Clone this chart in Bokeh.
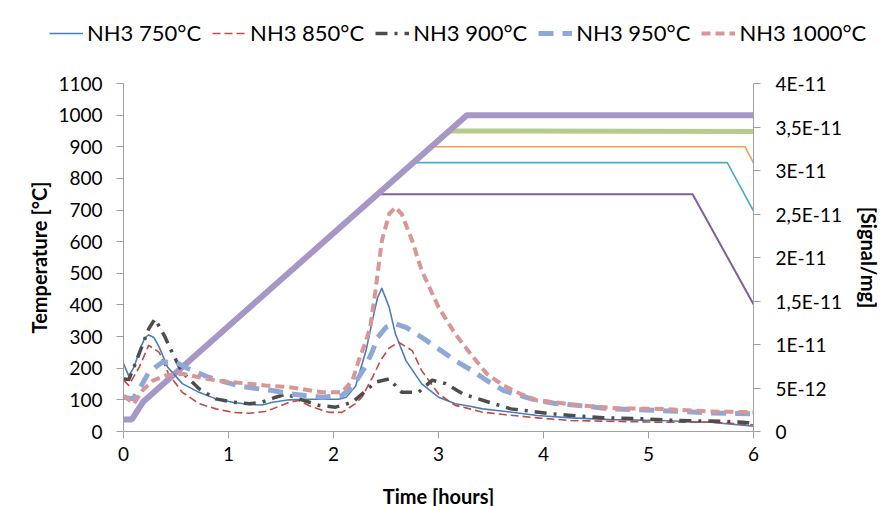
from bokeh.plotting import figure
from bokeh.models import Range1d, LinearAxis, FixedTicker, CustomJSTickFormatter, Legend, LegendItem
from bokeh.embed import file_html
from bokeh.resources import INLINE

# ---------------- data ----------------
# Temperature programmes (left axis, °C) – breakpoints
t_T1000 = [0, 0.08, 0.19, 3.27, 6.0]
T_1000 = [38, 38, 95, 1000, 1000]
t_T950 = [0, 0.08, 0.19, 3.10, 6.0]
T_950 = [38, 38, 95, 950, 948]
t_T900 = [0, 0.08, 0.19, 2.93, 5.92, 6.0]
T_900 = [38, 38, 95, 900, 900, 848]
t_T850 = [0, 0.08, 0.19, 2.76, 5.75, 6.0]
T_850 = [38, 38, 95, 850, 850, 697]
t_T750 = [0, 0.08, 0.19, 2.44, 5.42, 6.0]
T_750 = [38, 38, 95, 750, 750, 402]

# NH3 signals (right axis, signal/mg)
t_750 = [0, 0.05, 0.10, 0.165, 0.205, 0.24, 0.29, 0.34, 0.42, 0.56, 0.72, 0.88, 1.04, 1.20, 1.32,
         1.42, 1.58, 1.73, 1.89, 2.05, 2.12, 2.21, 2.31, 2.37, 2.42, 2.46, 2.53, 2.59, 2.69, 2.84,
         3.00, 3.16, 3.30, 3.42, 3.62, 3.94, 4.26, 4.64, 5.11, 5.59, 6.00]
s_750 = [7.8e-12, 6.4e-12, 7.4e-12, 9.7e-12, 1.08e-11, 1.11e-11, 1.08e-11, 9.7e-12, 7.4e-12, 5.5e-12,
         4.5e-12, 3.75e-12, 3.37e-12, 3.1e-12, 3.05e-12, 3.37e-12, 3.64e-12, 3.71e-12, 3.71e-12,
         3.71e-12, 3.94e-12, 5.2e-12, 9.3e-12, 1.275e-11, 1.54e-11, 1.646e-11, 1.43e-11, 1.12e-11,
         8.15e-12, 5.48e-12, 3.94e-12, 3.18e-12, 2.9e-12, 2.6e-12, 2.33e-12, 1.84e-12, 1.57e-12,
         1.36e-12, 1.26e-12, 1.07e-12, 6.0e-13]

t_850 = [0, 0.05, 0.15, 0.24, 0.34, 0.43, 0.56, 0.72, 0.88, 1.04, 1.20, 1.35, 1.42, 1.58, 1.67,
         1.80, 1.96, 2.08, 2.21, 2.27, 2.37, 2.45, 2.53, 2.62, 2.75, 2.84, 3.00, 3.16, 3.30, 3.42,
         3.62, 3.94, 4.26, 4.73, 5.11, 5.59, 6.00]
s_850 = [5.9e-12, 5.3e-12, 7.4e-12, 9.9e-12, 9.1e-12, 6.6e-12, 4.5e-12, 3.2e-12, 2.6e-12, 2.2e-12,
         2.1e-12, 2.3e-12, 2.6e-12, 3.37e-12, 3.56e-12, 2.8e-12, 2.2e-12, 2.2e-12, 3.2e-12, 3.94e-12,
         6.2e-12, 8.2e-12, 9.6e-12, 1.026e-11, 9.3e-12, 7.0e-12, 4.33e-12, 3.0e-12, 2.6e-12, 2.22e-12,
         1.95e-12, 1.57e-12, 1.26e-12, 1.15e-12, 1.07e-12, 1.07e-12, 7.7e-13]

t_900 = [0, 0.05, 0.10, 0.16, 0.24, 0.30, 0.39, 0.47, 0.56, 0.72, 0.88, 1.04, 1.20, 1.32, 1.45,
         1.55, 1.70, 1.86, 2.02, 2.18, 2.30, 2.40, 2.53, 2.65, 2.81, 2.94, 3.07, 3.23, 3.38, 3.53,
         3.69, 3.88, 4.03, 4.26, 4.57, 4.95, 5.27, 5.68, 5.90, 6.00]
s_900 = [6.05e-12, 5.97e-12, 7.4e-12, 9.3e-12, 1.18e-11, 1.294e-11, 1.1e-11, 8.9e-12, 6.8e-12,
         4.9e-12, 3.75e-12, 3.37e-12, 3.18e-12, 3.37e-12, 3.94e-12, 4.3e-12, 3.64e-12, 3.0e-12,
         2.8e-12, 3.37e-12, 4.6e-12, 5.67e-12, 6.05e-12, 4.51e-12, 4.51e-12, 5.9e-12, 5.5e-12,
         4.33e-12, 3.75e-12, 3.18e-12, 2.6e-12, 2.33e-12, 2.1e-12, 1.84e-12, 1.57e-12, 1.46e-12,
         1.26e-12, 1.18e-12, 1.07e-12, 9.0e-13]

t_950 = [0, 0.09, 0.18, 0.24, 0.37, 0.50, 0.62, 0.81, 0.97, 1.13, 1.29, 1.42, 1.58, 1.73, 1.89,
         2.08, 2.18, 2.30, 2.37, 2.42, 2.50, 2.59, 2.69, 2.84, 3.00, 3.16, 3.32, 3.46, 3.62, 3.78,
         3.94, 4.10, 4.26, 4.41, 4.64, 5.11, 5.59, 6.00]
s_950 = [3.94e-12, 3.75e-12, 5.48e-12, 6.8e-12, 7.96e-12, 7.96e-12, 7.2e-12, 6.24e-12, 5.67e-12,
         5.17e-12, 4.9e-12, 4.71e-12, 4.33e-12, 4.13e-12, 3.94e-12, 4.13e-12, 5.09e-12, 7.4e-12,
         9.2e-12, 1.08e-11, 1.198e-11, 1.237e-11, 1.198e-11, 1.083e-11, 9.5e-12, 8.15e-12, 7.0e-12,
         5.86e-12, 4.71e-12, 4.13e-12, 3.56e-12, 3.25e-12, 3.07e-12, 2.9e-12, 2.6e-12, 2.41e-12,
         2.14e-12, 2.03e-12]

t_1000 = [0, 0.10, 0.18, 0.28, 0.40, 0.56, 0.72, 0.88, 1.04, 1.20, 1.35, 1.58, 1.89, 2.08, 2.18,
          2.24, 2.31, 2.35, 2.40, 2.46, 2.53, 2.59, 2.65, 2.75, 2.84, 3.00, 3.16, 3.32, 3.46, 3.62,
          3.78, 3.94, 4.10, 4.26, 4.57, 4.73, 5.11, 5.59, 6.00]
s_1000 = [4.13e-12, 3.18e-12, 4.71e-12, 5.86e-12, 6.43e-12, 6.63e-12, 6.24e-12, 5.86e-12, 5.67e-12,
          5.48e-12, 5.3e-12, 5.09e-12, 4.51e-12, 4.51e-12, 5.86e-12, 8.15e-12, 1.045e-11, 1.2e-11,
          1.62e-11, 2.19e-11, 2.5e-11, 2.576e-11, 2.5e-11, 2.19e-11, 1.85e-11, 1.43e-11, 1.12e-11,
          8.7e-12, 6.63e-12, 5.28e-12, 4.33e-12, 3.56e-12, 3.37e-12, 3.1e-12, 2.79e-12, 2.65e-12,
          2.6e-12, 2.3e-12, 2.22e-12]

labels = ["NH3 750°C", "NH3 850°C", "NH3 900°C", "NH3 950°C", "NH3 1000°C"]
x_ticks = [0, 1, 2, 3, 4, 5, 6]
y_ticks = [0, 100, 200, 300, 400, 500, 600, 700, 800, 900, 1000, 1100]
y2_ticks = [0, 5e-12, 1e-11, 1.5e-11, 2e-11, 2.5e-11, 3e-11, 3.5e-11, 4e-11]

# ---------------- layout geometry (pixels) ----------------
W, H = 884, 506
X0_PX, X1_PX = 123, 753      # pixel columns of t = 0 and t = 6
Y0_PX, Y1_PX = 431, 83       # pixel rows of 0 and 1100 °C
XMIN, XMAX = 0, 6
YMIN, YMAX = 0, 1100
SMAX = 4e-11

sx = (X1_PX - X0_PX) / (XMAX - XMIN)
sy = (Y0_PX - Y1_PX) / (YMAX - YMIN)
x_lo = XMIN - X0_PX / sx
x_hi = XMAX + (W - X1_PX) / sx
y_lo = YMIN - (H - Y0_PX) / sy
y_hi = YMAX + Y1_PX / sy
k = SMAX / YMAX

FONT = "Lato"
AX = "#A0A0A0"

p = figure(width=W, height=H, output_backend="svg", toolbar_location=None,
           x_range=Range1d(x_lo, x_hi), y_range=Range1d(y_lo, y_hi),
           x_axis_type=None, y_axis_type=None,
           min_border_left=0, min_border_right=0, min_border_top=0, min_border_bottom=0)
p.extra_y_ranges = {"sig": Range1d(y_lo * k, y_hi * k)}
p.outline_line_color = None
p.xgrid.visible = False
p.ygrid.visible = False
p.background_fill_color = "white"
p.border_fill_color = "white"

def style_axis(ax, label):
    ax.axis_label = label
    ax.axis_label_text_font = FONT
    ax.axis_label_text_font_style = "bold"
    ax.axis_label_text_font_size = "20px"
    ax.axis_label_text_color = "black"
    ax.major_label_text_font = FONT
    ax.major_label_text_font_size = "19px"
    ax.major_label_text_color = "black"
    ax.axis_line_color = AX
    ax.major_tick_line_color = AX
    ax.minor_tick_line_color = None
    ax.major_tick_in = 0
    ax.major_tick_out = 7

xa = LinearAxis(fixed_location=YMIN, bounds=(XMIN, XMAX))
style_axis(xa, "Time [hours]")
xa.ticker = FixedTicker(ticks=x_ticks)
xa.major_label_standoff = 8
xa.axis_label_standoff = 20
p.add_layout(xa, "below")

ya = LinearAxis(fixed_location=XMIN, bounds=(YMIN, YMAX))
style_axis(ya, "Temperature [°C]")
ya.ticker = FixedTicker(ticks=y_ticks)
ya.major_label_standoff = 14
ya.axis_label_standoff = 4
p.add_layout(ya, "left")

ya2 = LinearAxis(y_range_name="sig", fixed_location=XMAX, bounds=(0, SMAX))
style_axis(ya2, "[Signal/mg]")
ya2.ticker = FixedTicker(ticks=y2_ticks)
ya2.formatter = CustomJSTickFormatter(code="""
if (tick === 0) { return "0"; }
const e = Math.floor(Math.log10(tick) + 1e-9);
const m = Math.round(tick / Math.pow(10, e) * 10) / 10;
return String(m).replace(".", ",") + "E" + e;
""")
ya2.major_label_standoff = 15
ya2.axis_label_standoff = 12
p.add_layout(ya2, "right")

# temperature programmes
p.line(t_T750, T_750, line_color="#7D60A0", line_width=2)
p.line(t_T850, T_850, line_color="#4BACC6", line_width=1.6)
p.line(t_T900, T_900, line_color="#F59D56", line_width=1.6)
p.line(t_T950, T_950, line_color="#B5CC8E", line_width=5)
p.line(t_T1000, T_1000, line_color="#A797C6", line_width=6)

# NH3 signals
nh3_styles = [
    dict(line_color="#4A7EBB", line_width=1.6),
    dict(line_color="#BE4B48", line_width=1.6, line_dash="8 4"),
    dict(line_color="#4D4D4D", line_width=3.5, line_dash="12 7 3 7"),
    dict(line_color="#8EA9D8", line_width=5, line_dash="15 9"),
    dict(line_color="#D99694", line_width=4, line_dash="9 5"),
]
nh3_t = [t_750, t_850, t_900, t_950, t_1000]
nh3_s = [s_750, s_850, s_900, s_950, s_1000]
rs = [p.line(tt, ss, y_range_name="sig", line_join="round", **st)
      for tt, ss, st in zip(nh3_t, nh3_s, nh3_styles)]

items = [LegendItem(label=lab, renderers=[r]) for lab, r in zip(labels, rs)]
legend = Legend(items=items, orientation="horizontal", location=(49, H - 46),
                padding=0, margin=0, spacing=11, label_standoff=4,
                glyph_width=34, glyph_height=20,
                label_text_font=FONT, label_text_font_size="22px", label_text_color="black",
                border_line_color=None, background_fill_alpha=0)
p.add_layout(legend, "center")

open("out.html", "w").write(file_html(p, INLINE))
